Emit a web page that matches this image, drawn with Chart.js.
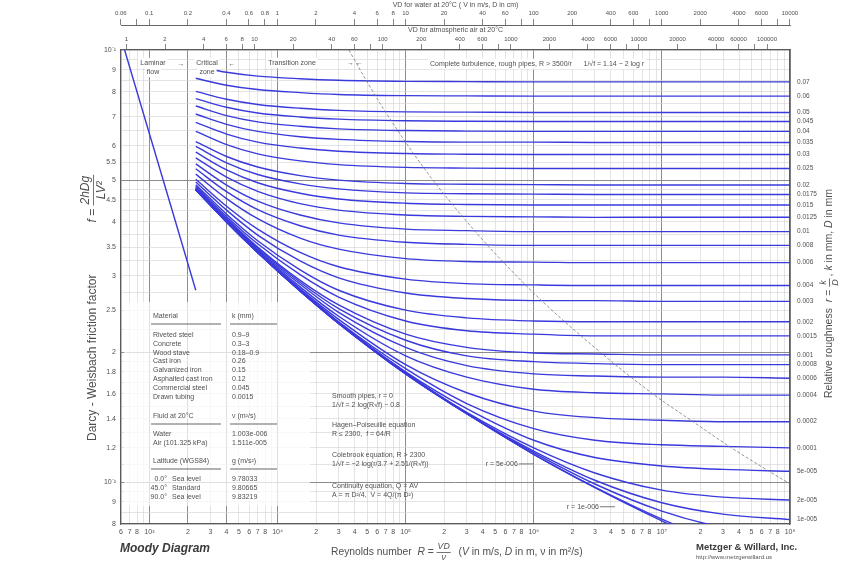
<!DOCTYPE html>
<html lang="en">
<head>
<meta charset="utf-8">
<title>Moody Diagram</title>
<script src="https://cdn.jsdelivr.net/npm/chart.js@4.4.1/dist/chart.umd.min.js"></script>
<style>
  html, body { margin: 0; padding: 0; background: #ffffff; }
  canvas { display: block; }
</style>
</head>
<body>
<canvas id="moody" width="864" height="573"></canvas>
<script>
// Reynolds numbers at which the friction factor of every curve is tabulated
const reynolds = [2300, 4000, 7000, 15000, 30000, 1e5, 3e5, 1e6, 3e6, 1e7, 3e7, 1e8];

// Darcy friction factor f for each relative roughness r (Colebrook curves)
const f_r07    = [0.0916, 0.0888, 0.0870, 0.0858, 0.0851, 0.0846, 0.0845, 0.0844, 0.0844, 0.0844, 0.0844, 0.0844];
const f_r06    = [0.0860, 0.0829, 0.0810, 0.0797, 0.0789, 0.0784, 0.0783, 0.0782, 0.0782, 0.0782, 0.0782, 0.0782];
const f_r05    = [0.0802, 0.0769, 0.0748, 0.0733, 0.0725, 0.0719, 0.0718, 0.0717, 0.0717, 0.0717, 0.0717, 0.0717];
const f_r045   = [0.0772, 0.0737, 0.0715, 0.0700, 0.0692, 0.0686, 0.0684, 0.0683, 0.0683, 0.0683, 0.0683, 0.0683];
const f_r04    = [0.0742, 0.0705, 0.0682, 0.0666, 0.0657, 0.0651, 0.0649, 0.0648, 0.0648, 0.0648, 0.0648, 0.0648];
const f_r035   = [0.0711, 0.0673, 0.0648, 0.0630, 0.0621, 0.0614, 0.0612, 0.0612, 0.0611, 0.0611, 0.0611, 0.0611];
const f_r03    = [0.0680, 0.0639, 0.0612, 0.0593, 0.0583, 0.0576, 0.0574, 0.0573, 0.0573, 0.0573, 0.0573, 0.0573];
const f_r025   = [0.0648, 0.0604, 0.0575, 0.0554, 0.0543, 0.0535, 0.0533, 0.0532, 0.0532, 0.0532, 0.0532, 0.0532];
const f_r02    = [0.0614, 0.0567, 0.0536, 0.0512, 0.0500, 0.0491, 0.0489, 0.0488, 0.0487, 0.0487, 0.0487, 0.0487];
const f_r0175  = [0.0598, 0.0548, 0.0515, 0.0490, 0.0477, 0.0467, 0.0465, 0.0464, 0.0463, 0.0463, 0.0463, 0.0463];
const f_r015   = [0.0580, 0.0528, 0.0493, 0.0466, 0.0452, 0.0442, 0.0439, 0.0438, 0.0438, 0.0438, 0.0438, 0.0438];
const f_r0125  = [0.0563, 0.0508, 0.0471, 0.0441, 0.0426, 0.0415, 0.0412, 0.0411, 0.0410, 0.0410, 0.0410, 0.0410];
const f_r01    = [0.0545, 0.0487, 0.0447, 0.0415, 0.0398, 0.0385, 0.0382, 0.0380, 0.0380, 0.0380, 0.0380, 0.0380];
const f_r008   = [0.0531, 0.0470, 0.0427, 0.0392, 0.0373, 0.0359, 0.0355, 0.0353, 0.0353, 0.0353, 0.0353, 0.0353];
const f_r006   = [0.0516, 0.0453, 0.0407, 0.0367, 0.0346, 0.0329, 0.0324, 0.0323, 0.0322, 0.0322, 0.0322, 0.0322];
const f_r004   = [0.0502, 0.0435, 0.0385, 0.0340, 0.0315, 0.0295, 0.0288, 0.0286, 0.0285, 0.0285, 0.0285, 0.0285];
const f_r003   = [0.0495, 0.0426, 0.0373, 0.0325, 0.0297, 0.0274, 0.0266, 0.0263, 0.0263, 0.0262, 0.0262, 0.0262];
const f_r002   = [0.0488, 0.0417, 0.0362, 0.0310, 0.0278, 0.0250, 0.0240, 0.0236, 0.0235, 0.0235, 0.0235, 0.0235];
const f_r0015  = [0.0484, 0.0412, 0.0356, 0.0302, 0.0268, 0.0236, 0.0224, 0.0220, 0.0218, 0.0218, 0.0218, 0.0218];
const f_r001   = [0.0481, 0.0408, 0.0350, 0.0293, 0.0257, 0.0220, 0.0205, 0.0199, 0.0198, 0.0197, 0.0197, 0.0197];
const f_r0008  = [0.0480, 0.0406, 0.0348, 0.0290, 0.0252, 0.0213, 0.0196, 0.0190, 0.0188, 0.0187, 0.0187, 0.0187];
const f_r0006  = [0.0479, 0.0405, 0.0346, 0.0287, 0.0247, 0.0205, 0.0186, 0.0178, 0.0176, 0.0175, 0.0175, 0.0174];
const f_r0004  = [0.0477, 0.0403, 0.0344, 0.0283, 0.0242, 0.0196, 0.0175, 0.0164, 0.0161, 0.0160, 0.0159, 0.0159];
const f_r0002  = [0.0476, 0.0402, 0.0342, 0.0280, 0.0238, 0.0187, 0.0161, 0.0146, 0.0141, 0.0139, 0.0138, 0.0138];
const f_r0001  = [0.0476, 0.0401, 0.0341, 0.0279, 0.0235, 0.0183, 0.0152, 0.0133, 0.0125, 0.0122, 0.0121, 0.0120];
const f_r5e5   = [0.0475, 0.0400, 0.0340, 0.0278, 0.0234, 0.0180, 0.0148, 0.0125, 0.0114, 0.0109, 0.0107, 0.0106];
const f_r2e5   = [0.0475, 0.0400, 0.0340, 0.0277, 0.0234, 0.0179, 0.0145, 0.0120, 0.0105, 0.00958, 0.00923, 0.00909];
const f_r1e5   = [0.0475, 0.0400, 0.0340, 0.0277, 0.0233, 0.0179, 0.0144, 0.0118, 0.0101, 0.00896, 0.00843, 0.00819];
const f_r5e6   = [0.0475, 0.0400, 0.0340, 0.0277, 0.0233, 0.0178, 0.0144, 0.0117, 0.0099, 0.00857, 0.00785, 0.00747];
const f_r1e6   = [0.0475, 0.0400, 0.0340, 0.0277, 0.0233, 0.0178, 0.0144, 0.0116, 0.00974, 0.00821, 0.00719, 0.00644];
const f_smooth = [0.0475, 0.0400, 0.0340, 0.0277, 0.0233, 0.0178, 0.0144, 0.0116, 0.00971, 0.00813, 0.00700];

// curves labelled on the right-hand edge, with their relative roughness text
const labelledCurves = [f_r07, f_r06, f_r05, f_r045, f_r04, f_r035, f_r03, f_r025, f_r02, f_r0175,
  f_r015, f_r0125, f_r01, f_r008, f_r006, f_r004, f_r003, f_r002, f_r0015, f_r001,
  f_r0008, f_r0006, f_r0004, f_r0002, f_r0001, f_r5e5, f_r2e5, f_r1e5];
const roughnessText = ['0.07', '0.06', '0.05', '0.045', '0.04', '0.035', '0.03', '0.025', '0.02', '0.0175',
  '0.015', '0.0125', '0.01', '0.008', '0.006', '0.004', '0.003', '0.002', '0.0015', '0.001',
  '0.0008', '0.0006', '0.0004', '0.0002', '0.0001', '5e-005', '2e-005', '1e-005'];
const unlabelledCurves = [f_r5e6, f_r1e6, f_smooth];

// laminar flow line, f = 64/R
const laminarRe = [640, 1000, 1500, 2300];
const laminarF  = [0.1, 0.064, 0.0427, 0.0278];

// start of complete turbulence, R = 3500/r
const boundaryRe = [36050, 50000, 70000, 116700, 175000, 350000, 583000, 1.167e6, 3.5e6, 8.75e6, 1.75e7, 3.5e7, 1e8];
const boundaryF  = [0.1, 0.0844, 0.0717, 0.0573, 0.0487, 0.0380, 0.0322, 0.0262, 0.0197, 0.0159, 0.0138, 0.0120, 0.0099];

// in-plot labels for the two smoothest curves: [text, R, f]
const curveNotes = [['r = 5e-006', 1.0e6, 0.01102], ['r = 1e-006', 4.3e6, 0.00877]];

// axis ranges and fluid properties
const reMin = 600, reMax = 1e8, fMin = 0.008, fMax = 0.1;
const nuWater = 1.003e-6, nuAir = 1.511e-5;

// bottom axis ticks
const reTicks = [600, 700, 800, 900,
  1e3, 2e3, 3e3, 4e3, 5e3, 6e3, 7e3, 8e3, 9e3,
  1e4, 2e4, 3e4, 4e4, 5e4, 6e4, 7e4, 8e4, 9e4,
  1e5, 2e5, 3e5, 4e5, 5e5, 6e5, 7e5, 8e5, 9e5,
  1e6, 2e6, 3e6, 4e6, 5e6, 6e6, 7e6, 8e6, 9e6,
  1e7, 2e7, 3e7, 4e7, 5e7, 6e7, 7e7, 8e7, 9e7, 1e8];

// left axis grid values and their labels
const fTicks = [0.1, 0.095, 0.09, 0.085, 0.08, 0.075, 0.07, 0.065, 0.06, 0.055, 0.05,
  0.0475, 0.045, 0.0425, 0.04, 0.0375, 0.035, 0.0325, 0.03, 0.0275, 0.025, 0.0225, 0.02,
  0.019, 0.018, 0.017, 0.016, 0.015, 0.014, 0.013, 0.012, 0.011, 0.01, 0.0095, 0.009, 0.0085, 0.008];
const fTickLabels = ['10⁻¹', '', '9', '', '8', '', '7', '', '6', '5.5', '5',
  '', '4.5', '', '4', '', '3.5', '', '3', '', '2.5', '', '2',
  '', '1.8', '', '1.6', '', '1.4', '', '1.2', '', '10⁻²', '', '9', '', '8'];

// VD scales along the top
const waterTicks  = [0.06, 0.08, 0.1, 0.2, 0.4, 0.6, 0.8, 1, 2, 4, 6, 8, 10, 20, 40, 60, 80, 100, 200, 400, 600, 800, 1000, 2000, 4000, 6000, 8000, 10000];
const waterLabels = ['0.06', '', '0.1', '0.2', '0.4', '0.6', '0.8', '1', '2', '4', '6', '8', '10', '20', '40', '60', '', '100', '200', '400', '600', '', '1000', '2000', '4000', '6000', '', '10000'];
const airTicks  = [1, 2, 4, 6, 8, 10, 20, 40, 60, 80, 100, 200, 400, 600, 800, 1000, 2000, 4000, 6000, 8000, 10000, 20000, 40000, 60000, 80000, 100000];
const airLabels = ['1', '2', '4', '6', '8', '10', '20', '40', '60', '', '100', '200', '400', '600', '', '1000', '2000', '4000', '6000', '', '10000', '20000', '40000', '60000', '', '100000'];

const FONT = "'Liberation Sans', Arial, Helvetica, sans-serif";
const TXT = '#505050';
const BLUE = '#3a3adc';
const AXIS = '#5a5a5a';

Chart.defaults.font.family = FONT;
Chart.defaults.font.size = 7;
Chart.defaults.color = TXT;

const SUP = { '-': '⁻', '0': '⁰', '1': '¹', '2': '²', '3': '³', '4': '⁴', '5': '⁵', '6': '⁶', '7': '⁷', '8': '⁸', '9': '⁹' };
const sup = n => String(n).split('').map(c => SUP[c]).join('');
const exponent = v => Math.floor(Math.log10(v) + 1e-9);
const mantissa = v => Math.round(v / Math.pow(10, exponent(v)));
const reLabel = v => {
  const m = mantissa(v);
  if (m === 1) return '10' + sup(exponent(v));
  return m === 9 ? '' : String(m);
};
const strongRe = v => mantissa(v) === 1 || v === 2000 || v === 4000;
const strongF = v => v === 0.05 || v === 0.02 || v === 0.01;

const pts = (xs, ys) => ys.map((y, i) => ({ x: xs[i], y }));
const curveStyle = { borderColor: BLUE, borderWidth: 1.4, pointRadius: 0, fill: false, cubicInterpolationMode: 'monotone' };

const datasets = [
  { data: pts(boundaryRe, boundaryF), borderColor: '#7a7a7a', borderWidth: 0.8, borderDash: [3, 2], pointRadius: 0, fill: false, cubicInterpolationMode: 'monotone' },
  { data: pts(laminarRe, laminarF), ...curveStyle, cubicInterpolationMode: 'default', tension: 0 },
  ...[...labelledCurves, ...unlabelledCurves].map(f => ({ data: pts(reynolds, f), ...curveStyle }))
];

function setTicks(values) {
  return scale => { scale.ticks = values.map(v => ({ value: v })); };
}

// ---------- drawing helpers for the annotations ----------
function text(ctx, s, x, y, o = {}) {
  const size = o.size || 7;
  ctx.font = `${o.italic ? 'italic ' : ''}${o.bold ? 'bold ' : ''}${size}px ${FONT}`;
  ctx.textAlign = o.align || 'left';
  ctx.textBaseline = 'middle';
  if (o.bg) {
    const w = ctx.measureText(s).width;
    let x0 = x;
    if (ctx.textAlign === 'center') x0 = x - w / 2;
    else if (ctx.textAlign === 'right') x0 = x - w;
    ctx.fillStyle = o.bg;
    ctx.fillRect(x0 - 2, y - size * 0.75, w + 4, size * 1.5);
  }
  ctx.fillStyle = o.color || TXT;
  ctx.fillText(s, x, y);
}

// draws a run of text pieces; a piece is a string, {i: 'italic text'}, {gap: px} or [numerator, denominator]
function formula(ctx, parts, x, y, size, color, fracScale = 0.85) {
  let cx = x;
  ctx.textBaseline = 'middle';
  ctx.fillStyle = color;
  ctx.strokeStyle = color;
  for (const p of parts) {
    if (Array.isArray(p)) {
      const fs = size * fracScale;
      ctx.font = `italic ${fs}px ${FONT}`;
      const w = Math.max(ctx.measureText(p[0]).width, ctx.measureText(p[1]).width) + 2;
      ctx.textAlign = 'center';
      ctx.fillText(p[0], cx + w / 2, y - fs * 0.64);
      ctx.fillText(p[1], cx + w / 2, y + fs * 0.68);
      ctx.lineWidth = 0.8;
      ctx.beginPath(); ctx.moveTo(cx, y + 0.5); ctx.lineTo(cx + w, y + 0.5); ctx.stroke();
      cx += w + 2;
    } else if (typeof p === 'object' && p.gap) {
      cx += p.gap;
    } else {
      const italic = typeof p === 'object';
      const s = italic ? p.i : p;
      ctx.font = `${italic ? 'italic ' : ''}${size}px ${FONT}`;
      ctx.textAlign = 'left';
      ctx.fillText(s, cx, y);
      cx += ctx.measureText(s).width;
    }
  }
}

const annotations = {
  id: 'annotations',
  beforeDraw(chart) {
    const ctx = chart.ctx;
    ctx.save();
    ctx.fillStyle = '#ffffff';
    ctx.fillRect(0, 0, chart.width, chart.height);
    ctx.restore();
  },
  afterDatasetsDraw(chart) {
    const ctx = chart.ctx;
    const xs = chart.scales.x, ys = chart.scales.y;
    ctx.save();

    // zone captions along the top of the plot
    text(ctx, 'Laminar', 153, 63, { align: 'center', bg: '#fff' });
    text(ctx, 'flow', 153, 72, { align: 'center', bg: '#fff' });
    text(ctx, '→', 181, 64, { align: 'center', size: 7 });
    text(ctx, 'Critical', 207, 63, { align: 'center', bg: '#fff' });
    text(ctx, 'zone', 207, 72, { align: 'center', bg: '#fff' });
    text(ctx, '←', 232, 64, { align: 'center', size: 7 });
    text(ctx, 'Transition zone', 292, 63, { align: 'center', bg: '#fff' });
    text(ctx, '→ ←', 355, 63, { align: 'center', size: 7 });
    text(ctx, 'Complete turbulence, rough pipes, R > 3500/r      1/√f = 1.14 − 2 log r', 430, 64, { bg: '#fff' });

    // material / fluid / gravity table
    ctx.fillStyle = 'rgba(255,255,255,0.72)';
    ctx.fillRect(124, 302, 186, 204);
    const c1 = 153, c2 = 232;
    const rule = (y) => {
      ctx.strokeStyle = '#666'; ctx.lineWidth = 1.2;
      ctx.beginPath(); ctx.moveTo(c1 - 2, y); ctx.lineTo(221, y); ctx.moveTo(c2 - 2, y); ctx.lineTo(277, y); ctx.stroke();
    };
    text(ctx, 'Material', c1, 316); text(ctx, 'k (mm)', c2, 316); rule(324);
    const materials = [['Riveted steel', '0.9–9'], ['Concrete', '0.3–3'], ['Wood stave', '0.18–0.9'], ['Cast iron', '0.26'],
      ['Galvanized iron', '0.15'], ['Asphalted cast iron', '0.12'], ['Commercial steel', '0.045'], ['Drawn tubing', '0.0015']];
    materials.forEach((m, i) => { text(ctx, m[0], c1, 335 + i * 8.8); text(ctx, m[1], c2, 335 + i * 8.8); });
    text(ctx, 'Fluid at 20°C', c1, 416); text(ctx, 'ν (m²/s)', c2, 416); rule(424);
    text(ctx, 'Water', c1, 434); text(ctx, String(nuWater.toExponential(3)).replace('e-6', 'e-006'), c2, 434);
    text(ctx, 'Air (101.325 kPa)', c1, 443); text(ctx, String(nuAir.toExponential(3)).replace('e-5', 'e-005'), c2, 443);
    text(ctx, 'Latitude (WGS84)', c1, 461); text(ctx, 'g (m/s²)', c2, 461); rule(469);
    const gravity = [['0.0°', 'Sea level', '9.78033'], ['45.0°', 'Standard', '9.80665'], ['90.0°', 'Sea level', '9.83219']];
    gravity.forEach((g, i) => {
      const y = 479 + i * 9;
      text(ctx, g[0], 167, y, { align: 'right' }); text(ctx, g[1], 172, y); text(ctx, g[2], c2, y);
    });

    // equations
    const ex = 332;
    text(ctx, 'Smooth pipes, r = 0', ex, 396);
    text(ctx, '1/√f = 2 log(R√f) − 0.8', ex, 405);
    text(ctx, 'Hagen–Poiseuille equation', ex, 425);
    text(ctx, 'R ≤ 2300,  f = 64/R', ex, 434);
    text(ctx, 'Colebrook equation, R > 2300', ex, 455);
    text(ctx, '1/√f = −2 log(r/3.7 + 2.51/(R√f))', ex, 464);
    text(ctx, 'Continuity equation, Q = AV', ex, 486);
    text(ctx, 'A = π D²/4,  V = 4Q/(π D²)', ex, 495);

    // notes on the smoothest curves
    curveNotes.forEach(([s, re, f]) => {
      const px = xs.getPixelForValue(re), py = ys.getPixelForValue(f);
      ctx.strokeStyle = '#555'; ctx.lineWidth = 0.8;
      ctx.beginPath(); ctx.moveTo(px - 15, py); ctx.lineTo(px, py); ctx.stroke();
      text(ctx, s, px - 16, py, { align: 'right' });
    });
    ctx.restore();
  },
  afterDraw(chart) {
    const ctx = chart.ctx;
    ctx.save();
    // left title
    ctx.translate(93, 441);
    ctx.rotate(-Math.PI / 2);
    formula(ctx, ['Darcy - Weisbach friction factor', { gap: 52 }, { i: 'f' }, ' = ', ['2hDg', 'LV²']], 0, 0, 12, TXT, 1.0);
    ctx.restore();

    ctx.save();
    ctx.translate(829, 398);
    ctx.rotate(-Math.PI / 2);
    formula(ctx, ['Relative roughness  ', { i: 'r' }, ' = ', ['k', 'D'], ', ', { i: 'k' }, ' in mm, ', { i: 'D' }, ' in mm'], 0, 0, 10.5, TXT);
    ctx.restore();

    ctx.save();
    formula(ctx, ['Reynolds number  ', { i: 'R' }, ' = ', ['VD', 'ν'], '  (', { i: 'V' }, ' in m/s, ', { i: 'D' }, ' in m, ν in m²/s)'], 331, 552, 10.3, TXT);
    text(ctx, 'Moody Diagram', 120, 549, { size: 12, bold: true, italic: true, color: '#3a3a3a' });
    text(ctx, 'Metzger & Willard, Inc.', 696, 547, { size: 9.5, bold: true, color: '#3a3a3a' });
    text(ctx, 'http://www.metzgerwillard.us', 696, 557, { size: 6, color: '#555' });
    ctx.restore();
  }
};

new Chart(document.getElementById('moody'), {
  type: 'line',
  data: { datasets },
  options: {
    responsive: false,
    animation: false,
    devicePixelRatio: 1,
    events: [],
    layout: { padding: 0 },
    plugins: { legend: { display: false }, tooltip: { enabled: false } },
    scales: {
      x: {
        type: 'logarithmic', position: 'bottom', min: reMin, max: reMax,
        afterBuildTicks: setTicks(reTicks),
        afterFit: s => { s.height = 49; },
        ticks: { callback: v => reLabel(v), autoSkip: false, maxRotation: 0, minRotation: 0, padding: 4, color: TXT, font: { size: 7 } },
        grid: {
          drawTicks: false,
          color: c => (c.tick && strongRe(c.tick.value)) ? '#8c8c8c' : '#d2d2d2',
          lineWidth: c => (c.tick && strongRe(c.tick.value)) ? 1 : 0.6
        },
        border: { color: AXIS, width: 1.3 }
      },
      y: {
        type: 'logarithmic', position: 'left', min: fMin, max: fMax,
        afterBuildTicks: setTicks(fTicks),
        afterFit: s => { s.width = 121; },
        ticks: { callback: (v, i) => fTickLabels[i], autoSkip: false, padding: 5, color: TXT, font: { size: 7 } },
        grid: {
          drawTicks: false,
          color: c => (c.tick && strongF(c.tick.value)) ? '#8c8c8c' : '#d2d2d2',
          lineWidth: c => (c.tick && strongF(c.tick.value)) ? 1 : 0.6
        },
        border: { color: AXIS, width: 1.3 }
      },
      yR: {
        type: 'logarithmic', position: 'right', min: fMin, max: fMax,
        afterBuildTicks: setTicks(labelledCurves.map(f => f[f.length - 1])),
        afterFit: s => { s.width = 74; },
        ticks: { callback: (v, i) => roughnessText[i], autoSkip: false, padding: 7, color: TXT, font: { size: 6.5 } },
        grid: { drawOnChartArea: false, drawTicks: false },
        border: { color: AXIS, width: 1.3 }
      },
      xAir: {
        type: 'logarithmic', position: 'top', weight: 0,
        min: reMin * nuAir / 0.01, max: reMax * nuAir / 0.01,
        afterBuildTicks: setTicks(airTicks),
        afterFit: s => { s.height = 25; },
        ticks: { callback: (v, i) => airLabels[i], autoSkip: false, maxRotation: 0, minRotation: 0, padding: 1, color: TXT, font: { size: 6 } },
        grid: { drawOnChartArea: false, drawTicks: true, tickLength: 6, color: '#666', lineWidth: 0.8 },
        border: { color: AXIS, width: 1.3 },
        title: { display: true, text: 'VD for atmospheric air at 20°C', color: TXT, font: { size: 7 }, padding: { top: 1, bottom: 0 } }
      },
      xWater: {
        type: 'logarithmic', position: 'top', weight: 1,
        min: reMin * nuWater / 0.01, max: reMax * nuWater / 0.01,
        afterBuildTicks: setTicks(waterTicks),
        afterFit: s => { s.height = 25; },
        ticks: { callback: (v, i) => waterLabels[i], autoSkip: false, maxRotation: 0, minRotation: 0, padding: 2, color: TXT, font: { size: 6 } },
        grid: { drawOnChartArea: false, drawTicks: true, tickLength: 6, color: '#666', lineWidth: 0.8 },
        border: { color: '#666', width: 1 },
        title: { display: true, text: 'VD for water at 20°C ( V in m/s, D in cm)', color: TXT, font: { size: 7 }, padding: { top: 1, bottom: 0 } }
      }
    }
  },
  plugins: [annotations]
});
</script>
</body>
</html>
